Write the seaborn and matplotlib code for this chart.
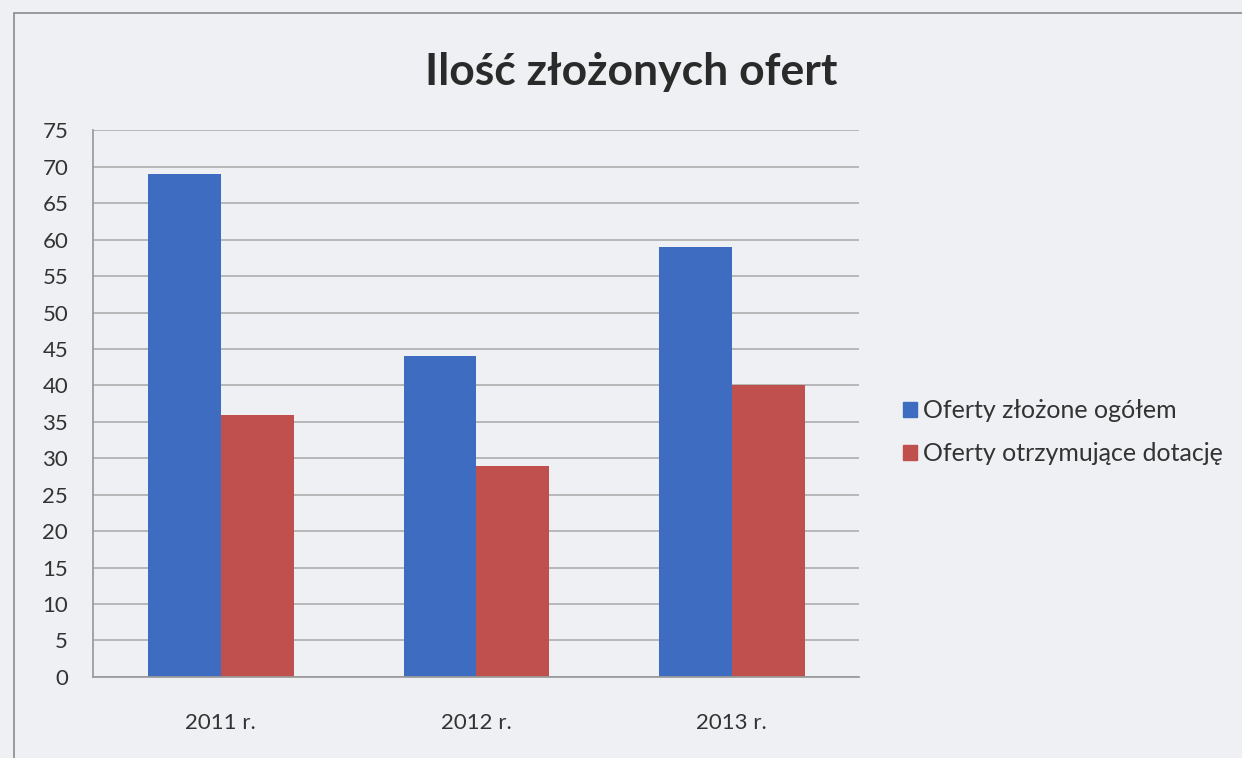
import pandas as pd
import matplotlib.pyplot as plt
import matplotlib.patches as mpatches
import seaborn as sns

# data
years = ['2011 r.', '2012 r.', '2013 r.']
series = ['Oferty złożone ogółem', 'Oferty otrzymujące dotację']
submitted = [69, 44, 59]
funded = [36, 29, 40]
yticks = list(range(0, 80, 5))

df = pd.DataFrame({
    'rok': years * 2,
    'seria': [series[0]] * 3 + [series[1]] * 3,
    'liczba': submitted + funded,
})

sns.set_theme(style='white')
plt.rcParams['font.family'] = ['Lato', 'DejaVu Sans']

paper = '#eef0f3'
fig = plt.figure(figsize=(12.42, 7.58), dpi=100, facecolor=paper)
ax = fig.add_axes([0.075, 0.107, 0.617, 0.721])
ax.set_facecolor(paper)

# outer chart frame
fig.patches.append(mpatches.Rectangle((0.011, -0.02), 1.2, 1.003, transform=fig.transFigure,
                                      fill=False, edgecolor='#8a8a8a', linewidth=1.2))

sns.barplot(data=df, x='rok', y='liczba', hue='seria', hue_order=series,
            palette=['#3d6cc0', '#c0504d'], width=0.57, saturation=1,
            linewidth=0, ax=ax)

ax.set_ylim(0, 75)
ax.set_yticks(yticks)
ax.yaxis.grid(True, color='#a8a8a8', linewidth=1.1)
ax.set_axisbelow(True)
for side in ['top', 'right']:
    ax.spines[side].set_visible(False)
ax.spines['left'].set_color('#9a9a9a')
ax.spines['bottom'].set_color('#9a9a9a')
ax.tick_params(axis='y', labelsize=16, colors='#333333', length=0, pad=18)
ax.tick_params(axis='x', labelsize=16, colors='#333333', length=0, pad=26)
ax.set_xlabel('')
ax.set_ylabel('')

ax.legend_.remove()
fig.legend(handles=[mpatches.Patch(color='#3d6cc0'), mpatches.Patch(color='#c0504d')],
           labels=series, loc='upper left', bbox_to_anchor=(0.709, 0.503),
           frameon=False, fontsize=18, handlelength=0.55, handleheight=0.55,
           handletextpad=0.25, labelspacing=0.8, labelcolor='#333333')

fig.text(0.508, 0.905, 'Ilość złożonych ofert', ha='center', va='center',
         fontsize=32, fontweight='bold', color='#2a2a2a')

fig.savefig('out.png', dpi=100, facecolor=paper)
